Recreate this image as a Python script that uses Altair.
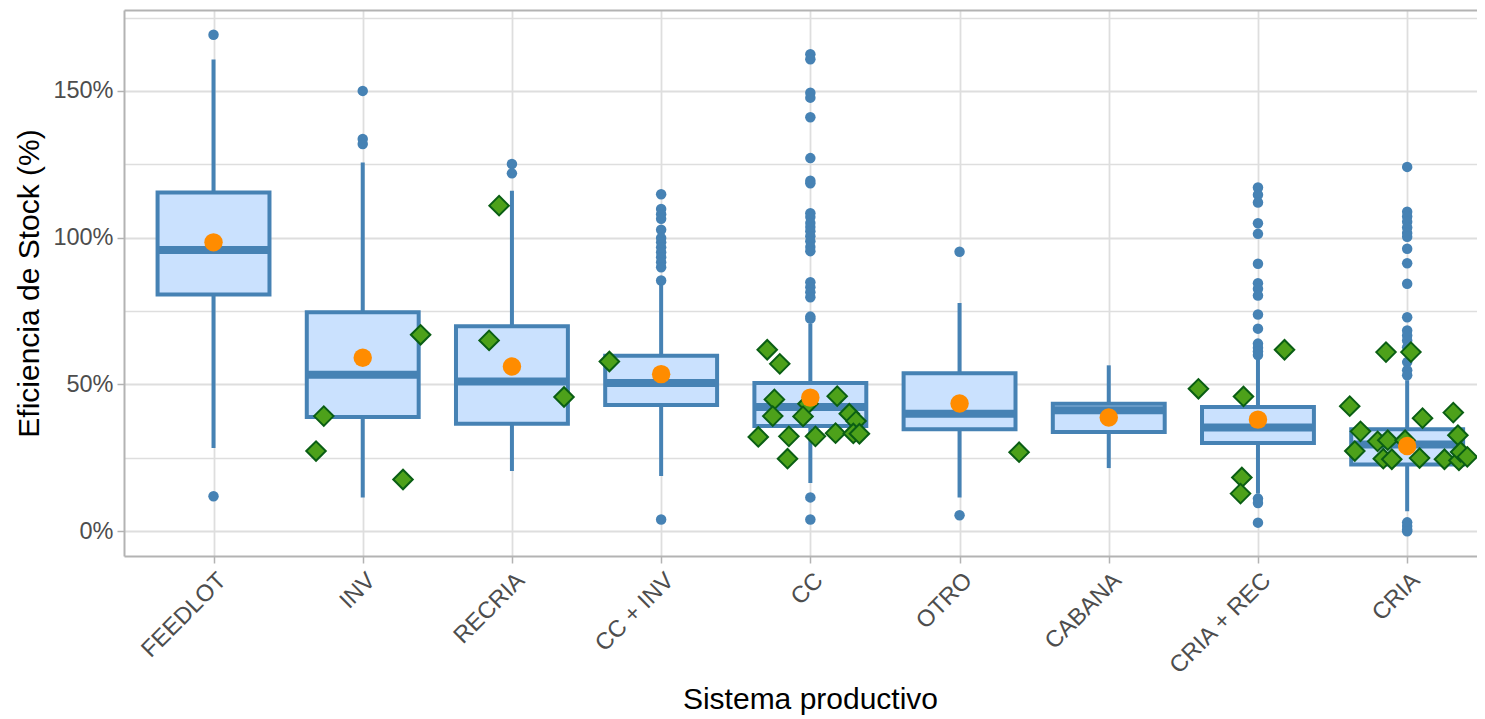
import altair as alt
import pandas as pd

categories = ["FEEDLOT", "INV", "RECRIA", "CC + INV", "CC", "OTRO", "CABANA", "CRIA + REC", "CRIA"]

whisker_low = [28.3, 11.5, 20.5, 18.8, 16.4, 11.5, 21.5, 12.8, 6.8]
q1 = [80.6, 38.9, 36.6, 43.0, 35.8, 34.7, 33.8, 30.0, 22.7]
median = [95.8, 53.3, 51.0, 50.5, 42.3, 40.0, 41.2, 35.3, 29.5]
q3 = [115.4, 74.6, 69.8, 59.8, 50.5, 53.8, 43.4, 42.3, 34.7]
whisker_high = [160.7, 125.6, 116.0, 84.0, 70.7, 77.7, 56.5, 59.3, 51.4]
means = [98.4, 59.1, 56.1, 53.5, 45.5, 43.5, 38.7, 38.0, 29.0]

outliers = {
    "FEEDLOT": [169.1, 11.9],
    "INV": [150.0, 133.6, 131.9],
    "RECRIA": [125.1, 121.9],
    "CC + INV": [114.8, 109.8, 108.0, 106.4, 102.7, 99.9, 98.4, 96.7, 95.0, 93.3, 91.6, 89.9, 85.4, 4.0],
    "CC": [162.5, 160.8, 149.4, 147.7, 141.0, 127.1, 119.4, 118.5, 108.3, 107.0, 105.0, 103.6,
           102.2, 100.5, 98.8, 96.8, 95.4, 84.8, 83.1, 81.4, 79.7, 73.1, 72.4, 11.5, 4.0],
    "OTRO": [95.2, 5.4],
    "CABANA": [],
    "CRIA + REC": [117.1, 114.6, 112.0, 104.9, 101.3, 91.1, 84.5, 82.6, 80.3, 73.8, 69.0,
                   63.9, 62.5, 61.2, 60.0, 11.1, 9.6, 2.9],
    "CRIA": [124.1, 108.8, 107.2, 105.4, 103.5, 101.6, 100.3, 96.2, 91.3, 84.3, 72.9, 68.4,
             66.7, 65.0, 62.7, 57.6, 54.8, 53.1, 3.0, 1.8, 0.6, 0.0],
}

# jittered observations: horizontal jitter (category units) and value (%)
diamond_offsets = {
    "INV": [0.388, -0.261, -0.313, 0.27],
    "RECRIA": [-0.086, -0.153, 0.349],
    "CC + INV": [-0.347],
    "CC": [-0.289, -0.205, -0.241, 0.18, -0.016, -0.252, -0.049, 0.261, 0.306, -0.349,
           -0.144, 0.034, 0.169, 0.288, 0.329, -0.153],
    "OTRO": [0.399],
    "CRIA + REC": [0.178, -0.399, -0.097, -0.108, -0.117],
    "CRIA": [-0.385, -0.313, -0.351, -0.198, -0.130, -0.160, -0.103, -0.014, 0.103, 0.083,
             0.309, 0.340, 0.25, 0.347, 0.358, 0.403, -0.142, 0.025],
}
diamond_values = {
    "INV": [66.9, 39.2, 27.3, 17.6],
    "RECRIA": [110.9, 65.0, 45.7],
    "CC + INV": [57.8],
    "CC": [61.8, 57.0, 44.9, 46.0, 43.4, 39.2, 39.1, 40.0, 37.5, 32.1, 32.3, 32.3, 33.4,
           33.3, 33.2, 24.7],
    "OTRO": [26.9],
    "CRIA + REC": [61.8, 48.5, 45.9, 18.3, 12.8],
    "CRIA": [42.6, 34.0, 27.3, 30.6, 31.0, 24.7, 24.5, 31.0, 38.5, 24.9, 40.4, 32.7, 24.5,
             24.1, 27.0, 25.3, 61.0, 61.0],
}

pos = {c: i for i, c in enumerate(categories)}

box_df = pd.DataFrame({
    "cat": categories, "pos": list(range(len(categories))),
    "wlo": whisker_low, "q1": q1, "med": median, "q3": q3, "whi": whisker_high, "mean": means,
})
out_df = pd.DataFrame([{"cat": c, "pos": pos[c], "v": v} for c, vals in outliers.items() for v in vals])
dia_df = pd.DataFrame([
    {"cat": c, "x": pos[c] + o, "v": v}
    for c in diamond_offsets for o, v in zip(diamond_offsets[c], diamond_values[c])
])

STEEL = "#4682B4"
BORDER = "#B3B3B3"
label_expr = "[" + ",".join("'" + c + "'" for c in categories) + "][datum.value]"

# the reference panel runs past the right edge of the picture
xscale = alt.Scale(domain=[-0.6, 8.468], nice=False, zero=False)
yscale = alt.Scale(domain=[-8.46, 177.56], nice=False, zero=False)

xaxis = alt.Axis(
    values=list(range(len(categories))), labelExpr=label_expr, title="Sistema productivo",
    labelAngle=-45, labelAlign="right", labelBaseline="top", labelPadding=5,
    labelFontSize=23.5, labelColor="#4D4D4D", tickColor=BORDER, tickSize=7, tickWidth=1.5,
    domain=True, domainColor=BORDER, domainWidth=2,
    grid=True, gridColor="#DEDEDE", gridWidth=1.8,
    titleFontSize=30, titleColor="#000000", titleFontWeight="normal",
    titleX=686, titleAlign="center", titleY=152, titleBaseline="alphabetic",
)
xaxis_top = alt.Axis(
    orient="top", labels=False, ticks=False, grid=False, title=None,
    domain=True, domainColor=BORDER, domainWidth=2,
)
yaxis = alt.Axis(
    values=[0, 25, 50, 75, 100, 125, 150, 175],
    labelExpr="datum.value % 50 === 0 ? datum.value + '%' : ''",
    title="Eficiencia de Stock (%)", labelPadding=4,
    labelFontSize=23.5, labelColor="#4D4D4D", tickColor=BORDER, tickSize=7, tickWidth=1.5,
    tickOpacity={"condition": {"test": "datum.value % 50 === 0", "value": 1}, "value": 0},
    domain=True, domainColor=BORDER, domainWidth=2,
    grid=True, gridColor="#DEDEDE",
    gridWidth={"condition": {"test": "datum.value % 50 === 0", "value": 1.8}, "value": 1.3},
    titleFontSize=30, titleColor="#000000", titleFontWeight="normal", titlePadding=8,
)

base = alt.Chart(box_df)

whisk = base.mark_rule(color=STEEL, strokeWidth=4).encode(
    x=alt.X("pos:Q", scale=xscale, axis=xaxis),
    y=alt.Y("wlo:Q", scale=yscale, axis=yaxis),
    y2="whi:Q",
)
top_border = base.mark_point(opacity=0).encode(
    x=alt.X("pos:Q", scale=xscale, axis=xaxis_top),
    y=alt.Y("mean:Q", scale=yscale, axis=None),
)
box = base.transform_calculate(
    xl="datum.pos - 0.375", xr="datum.pos + 0.375"
).mark_bar(fill="#CAE1FE", stroke=STEEL, strokeWidth=4).encode(
    x=alt.X("xl:Q", axis=None), x2="xr:Q", y=alt.Y("q1:Q", axis=None), y2="q3:Q",
)
med = base.transform_calculate(
    xl="datum.pos - 0.375", xr="datum.pos + 0.375"
).mark_rule(color=STEEL, strokeWidth=8).encode(
    x=alt.X("xl:Q", axis=None), x2="xr:Q", y=alt.Y("med:Q", axis=None),
)
outl = alt.Chart(out_df).mark_point(filled=True, shape="circle", size=110, color=STEEL, opacity=1).encode(
    x=alt.X("pos:Q", axis=None), y=alt.Y("v:Q", axis=None),
)
dia = alt.Chart(dia_df).mark_point(
    shape="diamond", filled=True, size=380, fill="#4DA11A", stroke="#0A5E14", strokeWidth=2, opacity=1
).encode(x=alt.X("x:Q", axis=None), y=alt.Y("v:Q", axis=None))
mean_pts = base.mark_point(filled=True, shape="circle", size=340, color="#FF8C00", opacity=1).encode(
    x=alt.X("pos:Q", axis=None), y=alt.Y("mean:Q", axis=None),
)

chart = alt.layer(whisk, top_border, box, med, outl, dia, mean_pts).resolve_axis(
    x="independent", y="independent"
).properties(
    width=1353, height=546,
    autosize=alt.AutoSizeParams(type="none"),
    padding={"left": 116, "top": 2, "right": 0, "bottom": 163},
).configure(
    font="Liberation Sans",
).configure_view(
    stroke=None,
)

chart.save("out.html", embed_options={"renderer": "svg", "actions": False})
